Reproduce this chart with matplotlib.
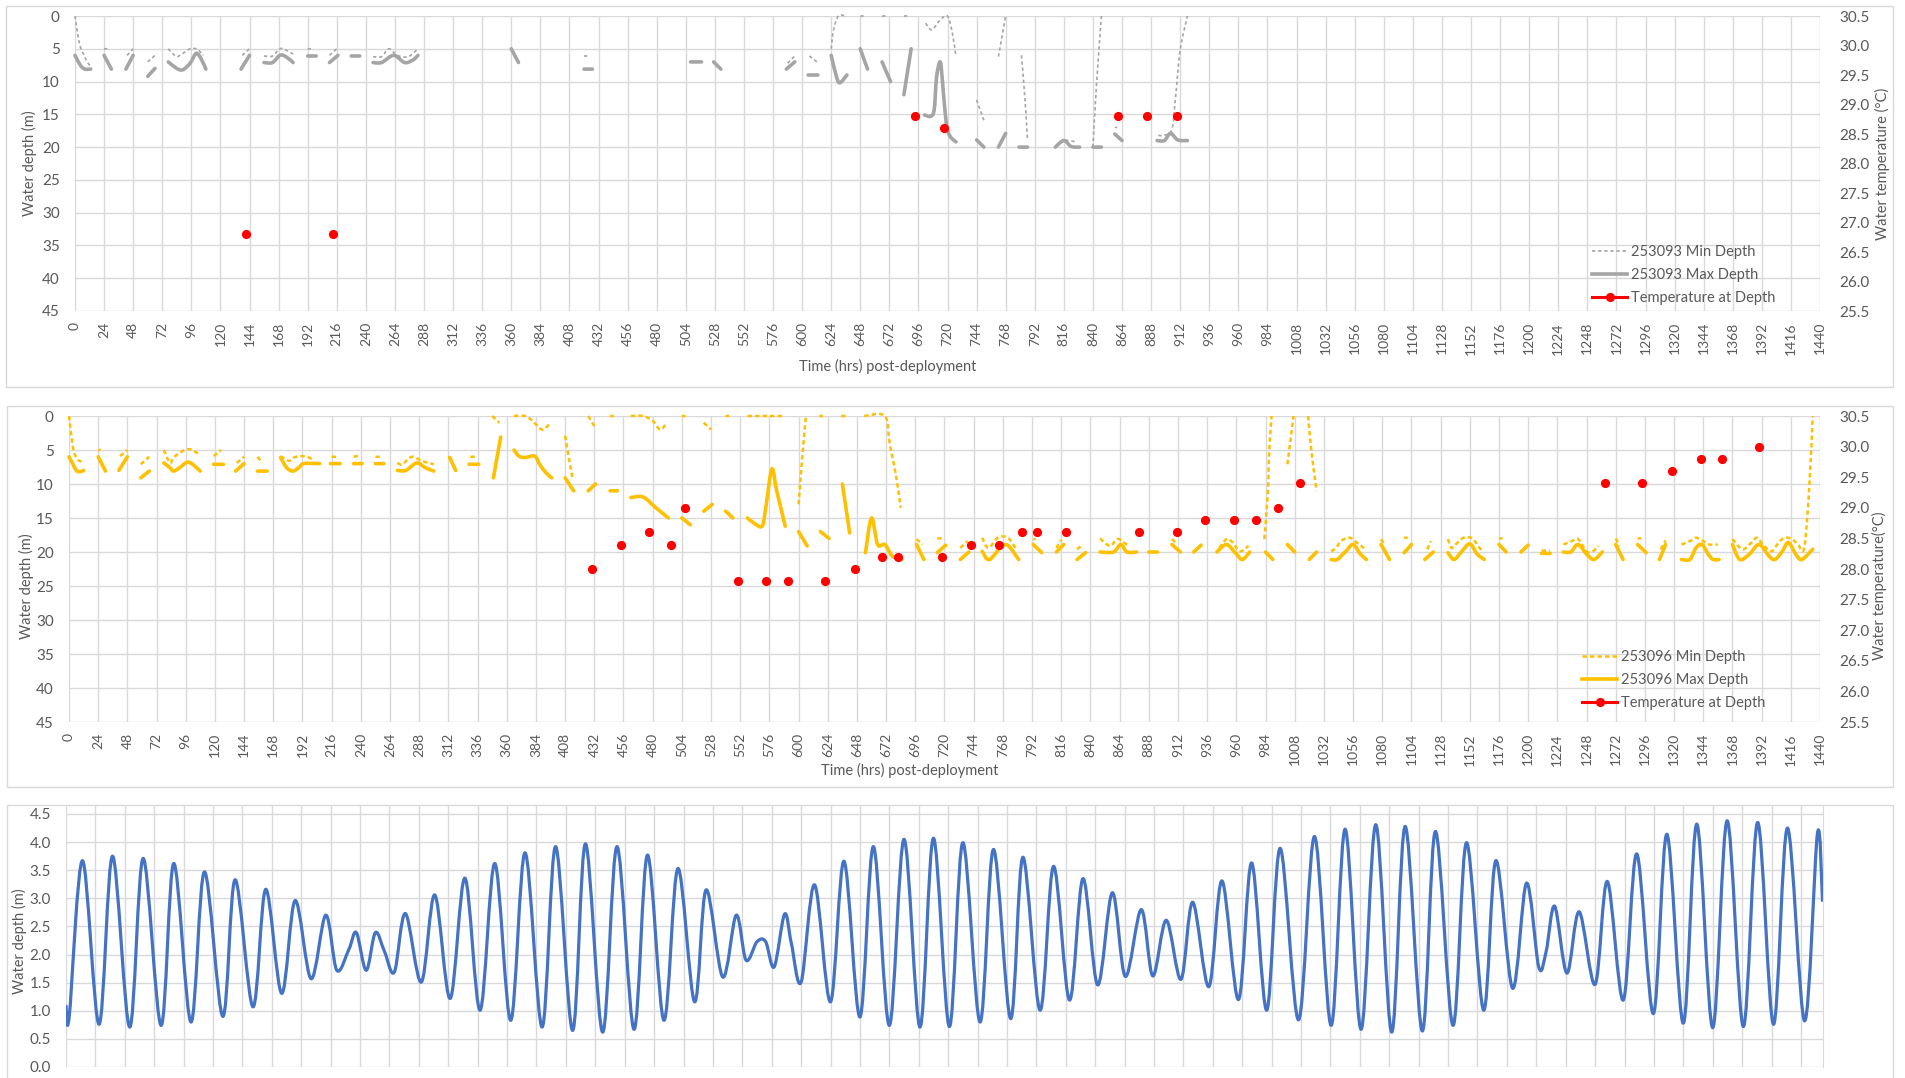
import numpy as np
import matplotlib
matplotlib.use("Agg")
import matplotlib.pyplot as plt
from matplotlib.path import Path
from matplotlib.patches import PathPatch, Rectangle
from matplotlib.lines import Line2D
from matplotlib.ticker import FormatStrFormatter

plt.rcParams['font.family'] = ['Lato', 'DejaVu Sans']
plt.rcParams['lines.scale_dashes'] = False

nan = np.nan
W, H = 1905, 1078

# ---- tag 253093: depth range per window (nan = no data) ----
min093_hrs = [
    0, 2, 4.4, 8, 10, 13, nan,
    24, 27, nan,
    43, 48, nan,
    60, 66, nan,
    77, 80, 84, 89, 95, 100, 103, 106, nan,
    138, 144, nan,
    156, 163, 169, 174, 180, nan,
    192, 196, nan,
    210, 216, nan,
    246, 253, 259, 266, 275, 283, nan,
    420, 423, nan,
    588, 594, nan,
    606, 613, nan,
    624, 626, 630, 636, nan,
    648, 651, nan,
    666, 669, nan,
    684, 687, nan,
    702, 707, 714, 720, 724, 727, nan,
    744, 750, nan,
    762, 768, nan,
    781, 784, 786, nan,
    809, 816, 826, nan,
    840, 843, 847, nan,
    858, 860, nan,
    894, 898, 905, 908, 912, 918,
]
min093_m = [
    0, 2.5, 4.7, 6.2, 7, 7.7, nan,
    5, 5, nan,
    6, 5, nan,
    7, 6, nan,
    5, 5.6, 6.2, 5.7, 5, 5, 5.4, 6, nan,
    6, 5, nan,
    6.1, 6.1, 5, 5.2, 5.8, nan,
    5, 5, nan,
    6, 5, nan,
    6.2, 6.2, 5, 6, 6.2, 5, nan,
    6.1, 6.1, nan,
    7.2, 6.1, nan,
    6.1, 7.1, nan,
    5, 2.1, 0, 0, nan,
    0, 0, nan,
    0, 0, nan,
    0, 0, nan,
    1.1, 2.1, 0.6, 0, 2.6, 6.2, nan,
    12.8, 15.9, nan,
    6.2, 0, nan,
    6, 12.8, 18.9, nan,
    20, 19, 19.2, nan,
    20, 10.3, 0, nan,
    17, 17, nan,
    18.2, 18.2, 17.4, 12.8, 5.2, 0,
]
max093_hrs = [
    0, 4.4, 8, 13, nan,
    24, 30, nan,
    42, 48, nan,
    60, 66, nan,
    77, 84, 89, 95, 100, 104, 108, nan,
    137, 144, nan,
    156, 163, 169, 174, 180, nan,
    192, 199, nan,
    210, 217, nan,
    228, 235, nan,
    246, 253, 263, 272, 279, 283, nan,
    360, 366, nan,
    420, 427, nan,
    508, 517, nan,
    527, 533, nan,
    587, 594, nan,
    605, 613, nan,
    624, 628, 631, 637, nan,
    648, 654, nan,
    666, 673, nan,
    684, 690, nan,
    701, 706, 709, 711, 714, 716, 719, 722, 727, nan,
    744, 750, nan,
    762, 768, nan,
    779, 786, nan,
    809, 816, 822, 829, nan,
    840, 847, nan,
    858, 864, nan,
    893, 899, 904, 910, 918,
]
max093_m = [
    6, 7.5, 8.1, 8.1, nan,
    6, 8.1, nan,
    8.1, 6, nan,
    9.2, 8, nan,
    7, 8, 8.2, 7.2, 5.7, 6.5, 8.1, nan,
    8.1, 6, nan,
    7.1, 7.1, 6, 6.2, 7.1, nan,
    6.1, 6.1, nan,
    7.1, 6, nan,
    6.1, 6.1, nan,
    7.1, 7.1, 6, 7.1, 6.7, 6, nan,
    5, 7.1, nan,
    8.1, 8.1, nan,
    7, 7, nan,
    7, 8.1, nan,
    8.1, 7, nan,
    9, 9, nan,
    6, 9, 10.2, 9, nan,
    5, 8.1, nan,
    7, 10, nan,
    12, 5, nan,
    15.1, 15.3, 14.3, 9.3, 7, 10.3, 16.4, 18.3, 19.2, nan,
    18.9, 20, nan,
    20, 17.9, nan,
    20, 20, nan,
    20, 19, 19.9, 20, nan,
    20, 20, nan,
    18, 19, nan,
    19, 19, 17.9, 18.9, 19,
]
temp093_hrs = [141, 213, 693, 717, 861, 885, 909]
temp093_c = [26.8, 26.8, 28.8, 28.6, 28.8, 28.8, 28.8]

# ---- tag 253096 ----
min096_hrs = [
    0, 2, 4, 7, 12, nan,
    24, 26, nan,
    42, 48, nan,
    59, 66, nan,
    78, 83, 86, 94, 100, 105, 108, nan,
    119, 125, nan,
    138, 144, nan,
    155, 159, nan,
    174, 181, 185, 190, 196, 200, nan,
    216, 222, nan,
    234, 239, nan,
    252, 258, nan,
    270, 274, 282, 290, 296, 300, nan,
    313, 316, nan,
    330, 336, nan,
    348, 354, nan,
    366, 375, 381, 389, 395, nan,
    408, 411, 414, nan,
    427, 432, nan,
    445, 448, nan,
    462, 472, 480, 486, 491, nan,
    504, 507, nan,
    522, 528, nan,
    540, 543, nan,
    558, 587, nan,
    600, 603, 606, nan,
    617, 620, nan,
    635, 639, nan,
    654, 671, 675, 680, 684, nan,
    697, 702, nan,
    714, 719, nan,
    733, 739, nan,
    751, 756, 764, 772, 779, nan,
    793, 795, nan,
    812, 816, nan,
    829, 834, nan,
    848, 856, 862, 866, 871, nan,
    907, 910, nan,
    946, 952, 957, 963, 970, nan,
    983, 986, 987, 989, nan,
    1002, 1007, nan,
    1019, 1022, 1026, nan,
    1038, 1042, 1046, 1053, 1059, 1066, nan,
    1079, 1082, nan,
    1098, 1101, nan,
    1117, 1120, nan,
    1134, 1137, 1142, 1147, 1154, 1160, 1163, nan,
    1176, 1179, nan,
    1211, 1218, nan,
    1229, 1236, 1241, 1248, 1253, 1258, nan,
    1272, 1275, nan,
    1290, 1293, nan,
    1309, 1313, nan,
    1326, 1333, 1338, 1344, 1349, 1356, nan,
    1368, 1376, 1382, 1388, 1393, 1400, 1406, 1411, 1417, 1422, 1427, 1431, 1434,
]
min096_m = [
    0, 3, 5.2, 6.4, 6.8, nan,
    5, 5, nan,
    5.9, 5, nan,
    7.1, 6, nan,
    5, 6.9, 6.1, 5.1, 4.9, 5.4, 5.8, nan,
    5.9, 5, nan,
    6.9, 6, nan,
    6, 6.9, nan,
    5.9, 6.6, 6.1, 5.9, 6, 6.4, nan,
    6, 6, nan,
    6, 5.8, nan,
    6, 6, nan,
    6.9, 7.1, 6, 6.6, 6.9, 7.1, nan,
    6, 6.9, nan,
    6, 6, nan,
    0, 1, nan,
    0, 0, 0.7, 2, 1.2, nan,
    2.9, 6.1, 9.1, nan,
    0, 1.5, nan,
    0, 0, nan,
    0, 0, 0.7, 2, 1.2, nan,
    0, 0, nan,
    1, 2, nan,
    0, 0, nan,
    0, 0, nan,
    13, 6.1, 0, nan,
    0, 0, nan,
    0, 0, nan,
    0, 0, 4.2, 8.6, 13.5, nan,
    18.1, 18.9, nan,
    18, 18, nan,
    19.4, 18.4, nan,
    17.9, 19.4, 17.9, 17.9, 19.6, nan,
    18.1, 18.1, nan,
    19.4, 18.2, nan,
    19.6, 18.9, nan,
    18, 19.1, 18.1, 18.4, 19.1, nan,
    18.1, 18.6, nan,
    19.4, 18.1, 18.6, 19.9, 19.1, nan,
    18.1, 11, 5.1, 0, nan,
    7.1, 0, nan,
    0, 5.6, 11, nan,
    19.9, 19.4, 18.4, 17.9, 18.6, 19.6, nan,
    18.1, 18.9, nan,
    17.9, 17.9, nan,
    19.6, 18.4, nan,
    18.1, 19.4, 18.6, 17.9, 18, 19.4, 19.9, nan,
    18, 18, nan,
    19.8, 19.8, nan,
    18.9, 18.4, 18.1, 19.9, 19.9, 19.1, nan,
    18, 19.1, nan,
    18, 18, nan,
    19.6, 18.3, nan,
    18.9, 18.4, 17.9, 18.4, 18.9, 18.9, nan,
    18.1, 19.6, 18.9, 17.9, 18.9, 19.9, 18.6, 17.9, 18.1, 18.9, 19.4, 11, 0,
]
max096_hrs = [
    0, 3, 6, 9, 12, nan,
    24, 30, nan,
    41, 48, nan,
    59, 66, nan,
    78, 83, 86, 91, 96, 100, 108, nan,
    119, 127, nan,
    137, 144, nan,
    155, 163, nan,
    174, 179, 184, 189, 193, 206, nan,
    215, 223, nan,
    234, 241, nan,
    252, 259, nan,
    270, 277, 286, 293, 300, nan,
    313, 318, nan,
    329, 337, nan,
    349, 355, nan,
    366, 370, 375, 383, 387, 392, 397, nan,
    408, 415, nan,
    427, 433, nan,
    445, 451, nan,
    462, 472, 482, 493, nan,
    504, 511, nan,
    522, 529, nan,
    540, 546, nan,
    558, 563, 570, 573, 578, 582, 589, nan,
    600, 607, nan,
    618, 625, nan,
    636, 642, nan,
    655, 660, 665, 671, 677, 685, nan,
    697, 703, nan,
    714, 721, nan,
    733, 740, nan,
    751, 757, 770, 781, nan,
    793, 800, nan,
    812, 818, nan,
    829, 836, nan,
    848, 859, 865, 870, 878, nan,
    888, 895, nan,
    907, 914, nan,
    925, 931, nan,
    944, 952, 960, 965, 971, nan,
    984, 990, nan,
    1002, 1008, nan,
    1020, 1026, nan,
    1038, 1043, 1050, 1056, 1062, 1067, nan,
    1079, 1086, nan,
    1098, 1104, nan,
    1115, 1122, nan,
    1134, 1139, 1145, 1152, 1158, 1164, nan,
    1176, 1182, nan,
    1194, 1200, nan,
    1211, 1218, nan,
    1229, 1235, 1241, 1248, 1254, 1261, nan,
    1272, 1278, nan,
    1290, 1297, nan,
    1308, 1313, nan,
    1326, 1333, 1338, 1343, 1348, 1352, 1357, nan,
    1368, 1374, 1382, 1390, 1398, 1403, 1409, 1414, 1420, 1425, 1434,
]
max096_m = [
    6, 7, 8, 8.2, 8, nan,
    6, 8.1, nan,
    8, 6, nan,
    9.1, 8.1, nan,
    6.9, 7.6, 8.1, 7.6, 6.9, 6.9, 8.1, nan,
    7.1, 7.1, nan,
    8.1, 7, nan,
    8.1, 8.1, nan,
    6.1, 7.6, 8.1, 7.6, 7, 7, nan,
    7, 7, nan,
    7, 7, nan,
    7, 7, nan,
    8, 8, 6.9, 7.6, 8.1, nan,
    6.1, 8, nan,
    7.1, 7.1, nan,
    9.1, 3.1, nan,
    5, 5.9, 6.1, 5.9, 7.1, 8.3, 9.1, nan,
    9.1, 11, nan,
    11, 10, nan,
    11, 11, nan,
    12, 11.9, 13.4, 15, nan,
    15, 16, nan,
    14, 13, nan,
    14, 15, nan,
    15, 15.7, 16.2, 13.5, 7.8, 11, 16.2, nan,
    17, 19.1, nan,
    17, 18, nan,
    10, 17.2, nan,
    20.1, 15, 18.9, 18.9, 20.6, 21.1, nan,
    18.9, 21.1, nan,
    20.1, 19, nan,
    21.1, 20, nan,
    19.9, 21.1, 18.9, 21.1, nan,
    18.9, 20.1, nan,
    20, 18.9, nan,
    21.1, 20.1, nan,
    20, 20, 18.9, 20, 20, nan,
    20, 20, nan,
    18.9, 20, nan,
    20, 19, nan,
    20, 18.9, 20.3, 21.1, 20, nan,
    20, 21.1, nan,
    18.9, 20, nan,
    21.1, 20, nan,
    21.1, 21.1, 19.9, 18.9, 20.3, 21.1, nan,
    18.9, 21.1, nan,
    20.1, 18.9, nan,
    21.1, 20, nan,
    20.1, 21.1, 20, 18.8, 20.3, 21.1, nan,
    18.9, 20, nan,
    20, 19, nan,
    20.2, 20.2, nan,
    20, 20, 18.9, 20.3, 21.1, 20, nan,
    18.9, 21.1, nan,
    18.9, 20.1, nan,
    21.1, 18.9, nan,
    21.1, 21.1, 19.4, 18.9, 20.3, 21.1, 21.1, nan,
    18.9, 21.1, 20.3, 18.9, 20.6, 21.1, 19.9, 18.6, 20.3, 21.1, 19.6,
]
temp096_hrs = [430, 454, 477, 495, 507, 550, 573, 591, 622, 646, 669, 682, 718,
               742, 765, 784, 796, 820, 880, 911, 934, 958, 976, 994, 1012,
               1263, 1294, 1318, 1342, 1359, 1390]
temp096_c = [28.0, 28.4, 28.6, 28.4, 29.0, 27.8, 27.8, 27.8, 27.8, 28.0, 28.2,
             28.2, 28.2, 28.4, 28.4, 28.6, 28.6, 28.6, 28.6, 28.6, 28.8, 28.8,
             28.8, 29.0, 29.4, 29.4, 29.4, 29.6, 29.8, 29.8, 30.0]

# ---- tide gauge: turning points of water depth ----
tide_hrs = [0, 2.6, 13.5, 27, 38, 52, 63, 77.6, 88, 102, 113, 128, 138, 152.6,
            163, 176, 187, 200, 212, 221, 231, 237, 245, 252.5, 260, 268, 277,
            290, 301, 313.6, 325.6, 338, 350, 363, 374.7, 388.6, 399.6, 413.5,
            424, 438, 449.7, 463.6, 474.6, 488, 499.4, 513, 522.4, 536, 547,
            555, 564, 571, 578, 586.5, 592, 600, 611, 624, 635, 648, 659, 672,
            684, 697, 708, 721, 732, 746, 757, 771, 781, 795, 806, 819, 830,
            842, 854, 864.6, 877.6, 887, 898, 910, 919.6, 932.8, 943.5, 957,
            967.7, 980, 991, 1006, 1019, 1032.6, 1044, 1057, 1069, 1082, 1093,
            1107, 1117.7, 1132, 1143, 1157, 1167, 1180.7, 1192, 1202, 1208,
            1215, 1225, 1235, 1248, 1258, 1271, 1282, 1295.6, 1306.6, 1320,
            1331, 1344, 1355.8, 1369, 1380.7, 1393.6, 1405, 1419, 1429.5, 1433.6]
tide_m = [1.1, 0.89, 3.67, 0.76, 3.75, 0.71, 3.71, 0.74, 3.62, 0.8, 3.47, 0.9,
          3.33, 1.07, 3.16, 1.31, 2.96, 1.57, 2.70, 1.72, 2.1, 2.39, 1.72, 2.39,
          2.05, 1.69, 2.73, 1.51, 3.06, 1.22, 3.36, 1.01, 3.62, 0.83, 3.81,
          0.71, 3.92, 0.65, 3.97, 0.62, 3.92, 0.67, 3.77, 0.83, 3.53, 1.16,
          3.15, 1.6, 2.7, 1.9, 2.23, 2.23, 1.78, 2.72, 2.2, 1.51, 3.24, 1.16,
          3.66, 0.89, 3.92, 0.74, 4.05, 0.71, 4.07, 0.72, 3.99, 0.8, 3.87,
          0.86, 3.73, 1.01, 3.57, 1.19, 3.35, 1.46, 3.1, 1.61, 2.8, 1.62, 2.61,
          1.56, 2.93, 1.43, 3.31, 1.2, 3.63, 1.01, 3.89, 0.84, 4.1, 0.74, 4.23,
          0.67, 4.31, 0.62, 4.28, 0.64, 4.19, 0.74, 3.99, 1.01, 3.67, 1.4,
          3.27, 1.78, 2.05, 2.86, 1.67, 2.76, 1.47, 3.3, 1.19, 3.79, 0.95,
          4.14, 0.78, 4.32, 0.7, 4.38, 0.72, 4.35, 0.76, 4.25, 0.82, 4.16, 2.94]

GRID = '#D9D9D9'
TXT = '#595959'
GREY = '#A5A5A5'
GOLD = '#FFC000'
RED = '#FF0000'
BLUE = '#4472C4'


def smooth_path(x, y):
    # Catmull-Rom style cubic through the points (like Excel's smoothed line)
    pts = np.column_stack([x, y])
    n = len(pts)
    verts = [pts[0]]
    codes = [Path.MOVETO]
    for i in range(n - 1):
        p0 = pts[max(i - 1, 0)]
        p1 = pts[i]
        p2 = pts[i + 1]
        p3 = pts[min(i + 2, n - 1)]
        verts += [p1 + (p2 - p0) / 6, p2 - (p3 - p1) / 6, p2]
        codes += [Path.CURVE4] * 3
    return Path(verts, codes)


def draw_series(ax, hrs, vals, **kw):
    hrs = np.asarray(hrs, float)
    vals = np.asarray(vals, float)
    breaks = np.where(np.isnan(vals))[0]
    for idx in np.split(np.arange(len(vals)), breaks):
        idx = idx[~np.isnan(vals[idx])]
        if len(idx) < 2:
            continue
        ax.add_patch(PathPatch(smooth_path(hrs[idx], vals[idx]), fill=False,
                               clip_on=False, **kw))


def px_axes(x0, y0, x1, y1):
    return fig.add_axes([x0 / W, 1 - y1 / H, (x1 - x0) / W, (y1 - y0) / H])


def panel_box(x0, y0, x1, y1):
    fig.add_artist(Rectangle((x0 / W, 1 - y1 / H), (x1 - x0) / W, (y1 - y0) / H,
                             transform=fig.transFigure, fill=False,
                             ec=GRID, lw=1.0))


def depth_panel(box, plot, mins, maxs, temps, color, min_style, min_lw,
                tag, t_label, t_label_xy, ylab_xy, xlab_xy, leg_xy):
    panel_box(*box)
    ax = px_axes(*plot)
    ax.set_xlim(0, 1440)
    ax.set_ylim(45, 0)
    ax.set_xticks(np.arange(0, 1441, 24))
    ax.set_yticks(np.arange(0, 46, 5))
    ax.grid(True, color=GRID, lw=1.0)
    ax.set_axisbelow(True)
    for s in ax.spines.values():
        s.set_visible(False)
    ax.tick_params(axis='x', length=0, pad=8, labelsize=10, labelcolor=TXT,
                   labelrotation=90)
    ax.tick_params(axis='y', length=0, pad=11, labelsize=11, labelcolor=TXT)
    ax.set_ylabel('Water depth (m)', fontsize=10.5, color=TXT)
    ax.yaxis.set_label_coords(*ylab_xy)

    draw_series(ax, mins[0], mins[1], ec=color, lw=min_lw, ls=min_style,
                capstyle='butt')
    draw_series(ax, maxs[0], maxs[1], ec=color, lw=2.6, capstyle='round',
                joinstyle='round')

    ax2 = ax.twinx()
    ax2.set_ylim(25.5, 30.5)
    ax2.set_yticks(np.arange(25.5, 30.51, 0.5))
    ax2.yaxis.set_major_formatter(FormatStrFormatter('%.1f'))
    ax2.tick_params(axis='y', length=0, pad=14, labelsize=11, labelcolor=TXT)
    for s in ax2.spines.values():
        s.set_visible(False)
    ax2.plot(temps[0], temps[1], ls='none', marker='o', ms=5.6, color=RED,
             clip_on=False, zorder=5)
    ax2.set_ylabel(t_label, fontsize=10.5, color=TXT)
    ax2.yaxis.set_label_coords(*t_label_xy)

    fig.text(xlab_xy[0] / W, 1 - xlab_xy[1] / H, 'Time (hrs) post-deployment',
             ha='center', va='center', fontsize=10.5, color=TXT)

    handles = [
        Line2D([], [], color=color, lw=min_lw, ls=min_style),
        Line2D([], [], color=color, lw=2.6),
        Line2D([], [], color=RED, lw=2.2, marker='o', ms=5.6),
    ]
    labels = [f'{tag} Min Depth', f'{tag} Max Depth', 'Temperature at Depth']
    fig.legend(handles, labels, loc='upper left',
               bbox_to_anchor=(leg_xy[0] / W, 1 - leg_xy[1] / H),
               frameon=False, fontsize=10.5, labelcolor=TXT, handlelength=2.4,
               handletextpad=0.25, labelspacing=0.62, borderpad=0,
               borderaxespad=0)
    return ax


fig = plt.figure(figsize=(W / 100, H / 100), dpi=100)
fig.patch.set_facecolor('white')

depth_panel((6, 6, 1893, 387), (75, 16, 1820, 311),
            (min093_hrs, min093_m), (max093_hrs, max093_m),
            (temp093_hrs, temp093_c), GREY, (0, (2.4, 2.0)), 1.2,
            '253093', 'Water temperature (°C)', (1.0315, 0.5),
            (-0.0218, 0.5), (888, 366), (1592, 245))

depth_panel((7, 406, 1893, 787), (69, 416, 1820, 722),
            (min096_hrs, min096_m), (max096_hrs, max096_m),
            (temp096_hrs, temp096_c), GOLD, (0, (3.2, 2.2)), 1.8,
            '253096', 'Water temperature(°C)', (1.0297, 0.445),
            (-0.020, 0.445), (910, 770), (1582, 650))

# tide gauge panel
panel_box(7, 805, 1893, 1100)
ax3 = px_axes(66, 805, 1823, 1067)
ax3.set_xlim(0, 1434)
ax3.set_ylim(0, 4.66)
ax3.set_xticks(np.arange(0, 1434, 24))
ax3.set_yticks(np.arange(0, 4.51, 0.5))
ax3.yaxis.set_major_formatter(FormatStrFormatter('%.1f'))
ax3.grid(True, color=GRID, lw=1.0)
ax3.set_axisbelow(True)
for side, s in ax3.spines.items():
    s.set_visible(side == 'right')
ax3.spines['right'].set_color(GRID)
ax3.tick_params(axis='x', length=0, labelbottom=False)
ax3.tick_params(axis='y', length=0, pad=11, labelsize=11, labelcolor=TXT)
ax3.set_ylabel('Water depth (m)', fontsize=10.5, color=TXT)
ax3.yaxis.set_label_coords(-0.0222, 0.48)
ax3.add_patch(PathPatch(smooth_path(np.asarray(tide_hrs, float),
                                    np.asarray(tide_m, float)),
                        fill=False, ec=BLUE, lw=2.3, joinstyle='round'))

fig.savefig('out.png', dpi=100, facecolor='white')
